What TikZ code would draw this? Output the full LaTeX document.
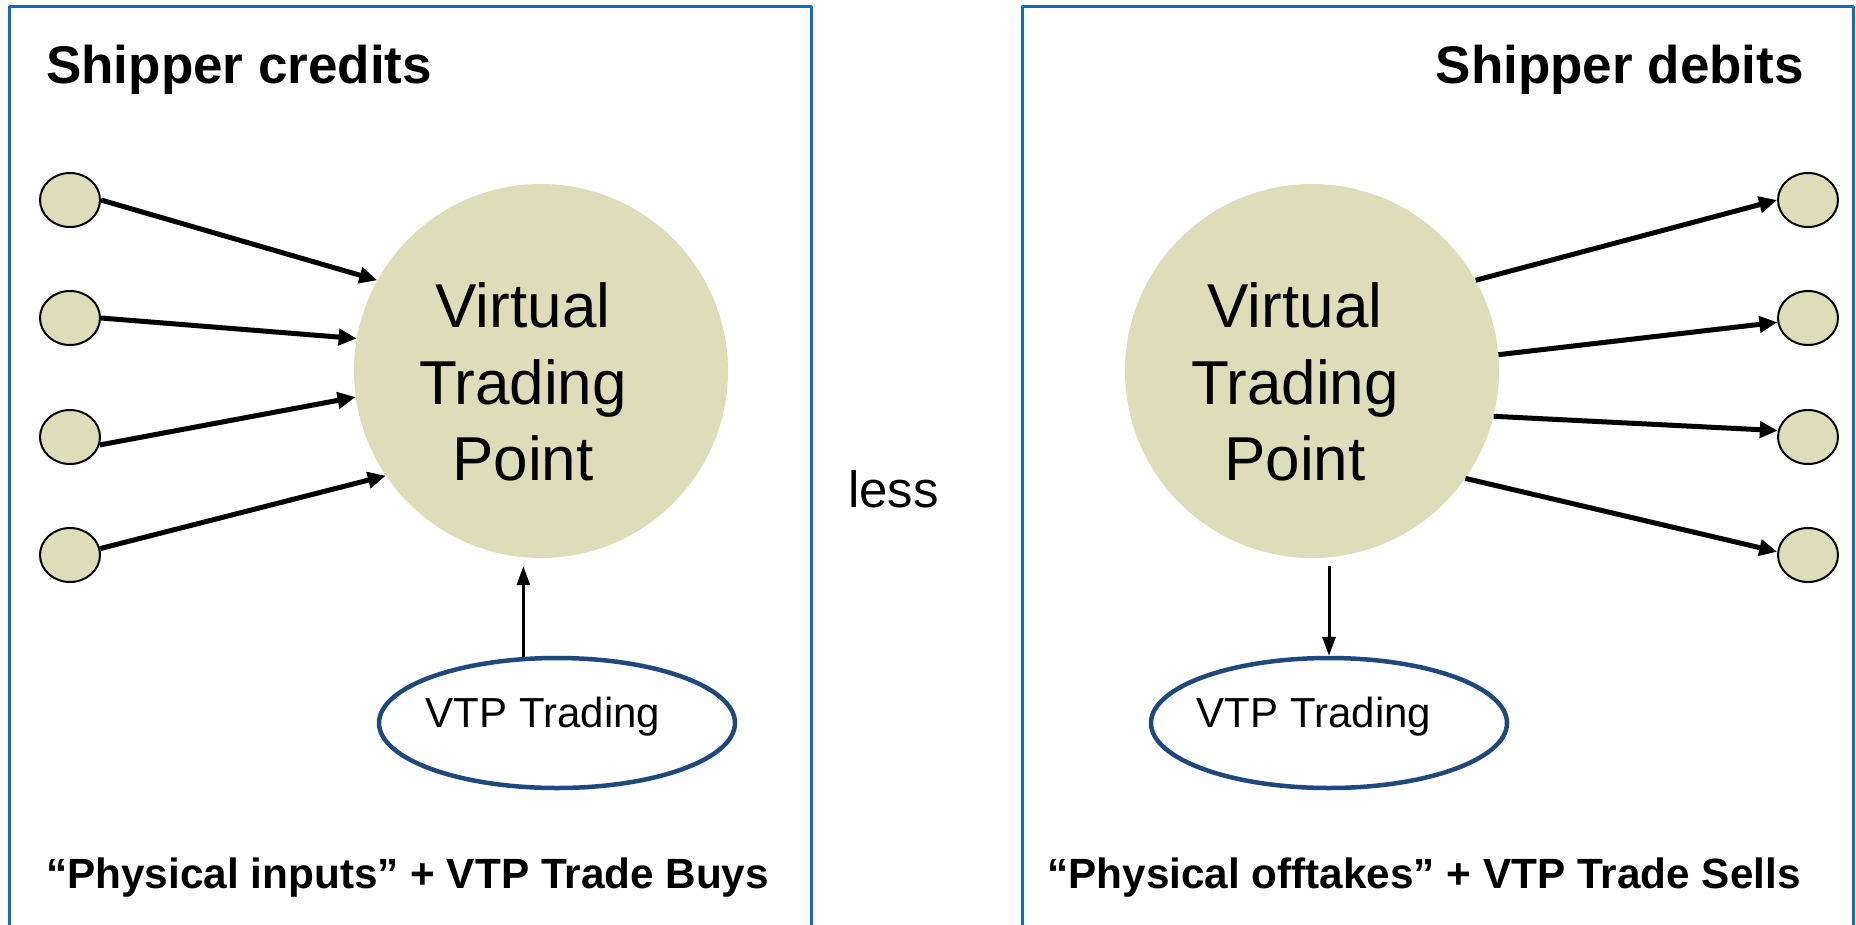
\documentclass[tikz,border=0pt]{standalone}
\usepackage{fontspec}
\setmainfont{Liberation Sans}
\usetikzlibrary{arrows.meta,shapes.geometric}
\definecolor{vtpfill}{RGB}{221,222,185}
\definecolor{boxblue}{RGB}{20,105,205}
\definecolor{tradeblue}{RGB}{31,73,125}
\begin{document}
\begin{tikzpicture}[x=1pt,y=-1pt,line cap=round,line join=round]
	\useasboundingbox (0,0) rectangle (1856,924);
	\tikzset{frame/.style={draw=boxblue,line width=3pt},
		dot/.style={ellipse,draw,line width=2pt,fill=vtpfill,minimum width=60pt,minimum height=54pt,inner sep=0pt},
		vtp/.style={circle,fill=vtpfill,minimum size=374pt,inner sep=0pt},
		trade/.style={ellipse,draw=tradeblue,line width=4.5pt,minimum width=356pt,minimum height=130pt,inner sep=0pt},
		flow/.style={line width=5pt,line cap=butt,-{Triangle[length=18pt,width=16pt]}},
		vflow/.style={line width=3pt,line cap=butt,-{Triangle[length=19pt,width=13pt]}},
		big/.style={font=\fontsize{62}{76.5}\selectfont,align=center,inner sep=0pt},
		small/.style={font=\fontsize{42}{50}\selectfont,inner sep=0pt},
		title/.style={font=\bfseries\fontsize{53}{60}\selectfont,inner sep=0pt},
		sum/.style={font=\bfseries\fontsize{42.3}{50}\selectfont,inner sep=0pt}}
	% the two frames, open at the bottom
	\draw[frame] (9,940) |- (811,6) -- (811,940);
	\draw[frame] (1022,940) |- (1853,6) -- (1853,940);
	\node[title,anchor=base west] (credT) at (46,83) {Shipper credits};
	\node[title,anchor=base east] (debT) at (1804,83) {Shipper debits};
	\node[sum,anchor=base west] (credS) at (46,888) {“Physical inputs” + VTP Trade Buys};
	\node[sum,anchor=base east] (debS) at (1801,888) {“Physical offtakes” + VTP Trade Sells};
	\node[font=\fontsize{51}{60}\selectfont,inner sep=0pt,anchor=base west] (less) at (848,507) {less};
	% trading points
	\node[vtp,label={[big,name=vtpLtxt,xshift=-18pt,yshift=-11pt]center:Virtual\\Trading\\Point}] (vtpL) at (541,371) {};
	\node[vtp,label={[big,name=vtpRtxt,xshift=-17pt,yshift=-11pt]center:Virtual\\Trading\\Point}] (vtpR) at (1312,371) {};
	\node[trade,label={[small,name=trLtxt,xshift=-14pt,yshift=6pt]center:VTP Trading}] (trL) at (557,723) {};
	\node[trade,label={[small,name=trRtxt,xshift=-15pt,yshift=6pt]center:VTP Trading}] (trR) at (1329,723) {};
	\foreach \i/\y in {1/200,2/318,3/437,4/555}{
		\node[dot] (inL\i) at (70,\y) {};
		\node[dot] (outR\i) at (1808,\y) {};}
	\foreach \i/\a/\b in {1/0/151.7,2/0/170.5,3/345/188.6,4/12/214.5}{\draw[flow] (inL\i.\a) -- (vtpL.\b);}
	\foreach \i/\a/\b in {1/29.3/180,2/5.6/188,3/346.9/168,4/325.4/174}{\draw[flow] (vtpR.\a) -- (outR\i.\b);}
	\draw[vflow,shorten >=8pt] (trL.117) -- (trL.117 |- vtpL.south);
	\draw[vflow,shorten <=8pt] (trR.north |- vtpR.south) -- (trR.north);
\end{tikzpicture}
\end{document}
